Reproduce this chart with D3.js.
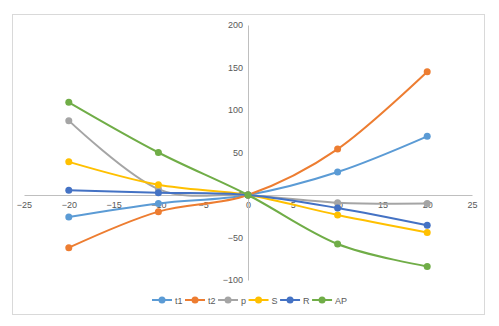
<!DOCTYPE html>
<html><head><meta charset="utf-8">
<script src="https://cdn.jsdelivr.net/npm/d3@7"></script>
<style>body{margin:0;background:#fff}svg{display:block}text{font-family:"Liberation Sans",Arial,sans-serif;fill:#595959}</style>
</head><body><svg id="c" width="499" height="326"></svg>
<script>
const xValues = [-20, -10, 0, 10, 20];
const seriesNames = ["t1", "t2", "p", "S", "R", "AP"];
const seriesColors = ["#5B9BD5", "#ED7D31", "#A5A5A5", "#FFC000", "#4472C4", "#70AD47"];
const t1 = [-26, -10, 0, 27, 69];
const t2 = [-62, -19.6, 0, 54, 145];
const p = [87.5, 7, 0, -9, -10];
const S = [39, 12, 0, -23.5, -44];
const R = [5.5, 2.7, 0, -15.3, -35.7];
const AP = [109, 50, 0, -57.6, -84];
const seriesValues = [t1, t2, p, S, R, AP];
const xTicks = [-25, -20, -15, -10, -5, 0, 5, 10, 15, 20, 25];
const yTicks = [-100, -50, 0, 50, 100, 150, 200];

const svg = d3.select("#c");
svg.append("rect").attr("x", 12.5).attr("y", 14.5).attr("width", 472).attr("height", 300)
  .attr("fill", "#fff").attr("stroke", "#d9d9d9");

const x = d3.scaleLinear().domain([-25, 25]).range([24, 472]);
const y = d3.scaleLinear().domain([-100, 200]).range([280, 25]);

const xAxis = svg.append("g").attr("transform", `translate(0,${y(0)})`)
  .call(d3.axisBottom(x).tickValues(xTicks).tickSize(0).tickPadding(7).tickFormat(d3.format("d")));
const yAxis = svg.append("g").attr("transform", `translate(${x(0)},0)`)
  .call(d3.axisLeft(y).tickValues(yTicks).tickSize(0).tickPadding(5).tickFormat(d3.format("d")));
[xAxis, yAxis].forEach(g => {
  g.select(".domain").attr("stroke", "#bfbfbf").attr("stroke-width", 1);
  g.selectAll("text").attr("font-size", 9).attr("fill", "#595959").attr("font-family", '"Liberation Sans",Arial,sans-serif');
});

const line = d3.line().x((d, i) => x(xValues[i])).y(d => y(d)).curve(d3.curveCatmullRom.alpha(0));
seriesValues.forEach((vals, k) => {
  const g = svg.append("g");
  g.append("path").attr("d", line(vals)).attr("fill", "none")
    .attr("stroke", seriesColors[k]).attr("stroke-width", 2);
  g.selectAll("circle").data(vals).enter().append("circle")
    .attr("cx", (d, i) => x(xValues[i])).attr("cy", d => y(d)).attr("r", 3.5)
    .attr("fill", seriesColors[k]);
});

const leg = svg.append("g");
let lx = 152;
const ly = 300;
seriesNames.forEach((n, k) => {
  const g = leg.append("g");
  g.append("line").attr("x1", lx).attr("x2", lx + 20).attr("y1", ly).attr("y2", ly)
    .attr("stroke", seriesColors[k]).attr("stroke-width", 2);
  g.append("circle").attr("cx", lx + 10).attr("cy", ly).attr("r", 3.5).attr("fill", seriesColors[k]);
  const t = g.append("text").attr("x", lx + 23).attr("y", ly + 3.5).attr("font-size", 9).text(n);
  const w = t.node().getComputedTextLength();
  lx += 23 + w + 2.5;
});
</script></body></html>
